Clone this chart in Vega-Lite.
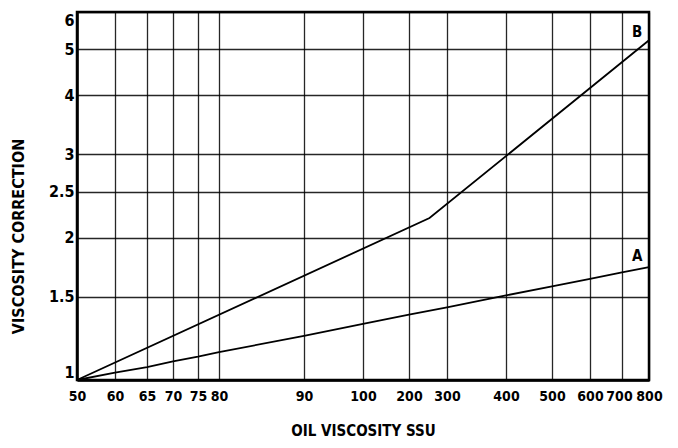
{
  "$schema": "https://vega.github.io/schema/vega-lite/v6.json",
  "width": 572,
  "height": 368,
  "autosize": "none",
  "padding": {"left": 77, "top": 12, "right": 29, "bottom": 68},
  "background": "white",
  "config": {
    "font": "DejaVu Sans Condensed, Liberation Sans, sans-serif",
    "view": {"stroke": "black", "strokeWidth": 2.5},
    "axis": {
      "labelFont": "DejaVu Sans Condensed, Liberation Sans, sans-serif",
      "labelFontWeight": "bold",
      "labelColor": "black",
      "titleFont": "DejaVu Sans Condensed, Liberation Sans, sans-serif",
      "titleFontWeight": "bold",
      "titleColor": "black",
      "domainColor": "black",
      "domainWidth": 2.5,
      "gridColor": "black",
      "gridWidth": 1.3,
      "gridOpacity": 0.85,
      "ticks": false
    }
  },
  "data": {
    "values": [
      {"series": "A", "ssu": 50, "corr": 1.0},
      {"series": "A", "ssu": 60, "corr": 1.037},
      {"series": "A", "ssu": 65, "corr": 1.065},
      {"series": "A", "ssu": 70, "corr": 1.095},
      {"series": "A", "ssu": 75, "corr": 1.12},
      {"series": "A", "ssu": 80, "corr": 1.145},
      {"series": "A", "ssu": 90, "corr": 1.24},
      {"series": "A", "ssu": 100, "corr": 1.315},
      {"series": "A", "ssu": 200, "corr": 1.375},
      {"series": "A", "ssu": 300, "corr": 1.425},
      {"series": "A", "ssu": 400, "corr": 1.51},
      {"series": "A", "ssu": 500, "corr": 1.578},
      {"series": "A", "ssu": 600, "corr": 1.637},
      {"series": "A", "ssu": 700, "corr": 1.688},
      {"series": "A", "ssu": 800, "corr": 1.733},
      {"series": "B", "ssu": 50, "corr": 1.0},
      {"series": "B", "ssu": 254, "corr": 2.2},
      {"series": "B", "ssu": 800, "corr": 5.23}
    ]
  },
  "layer": [
    {
      "mark": {"type": "line", "color": "black", "strokeWidth": 1.8},
      "encoding": {
        "x": {
          "field": "ssu",
          "type": "quantitative",
          "scale": {
            "type": "linear",
            "domain": [50, 60, 65, 70, 75, 80, 90, 100, 200, 300, 400, 500, 600, 700, 800],
            "range": [0, 38, 70, 96, 121, 142, 227, 286, 332, 370, 429, 475, 513, 545, 572],
            "zero": false,
            "nice": false
          },
          "axis": {
            "values": [50, 60, 65, 70, 75, 80, 90, 100, 200, 300, 400, 500, 600, 700, 800],
            "title": "OIL VISCOSITY SSU",
            "labelFontSize": 14,
            "titleFontSize": 15,
            "labelPadding": 9,
            "titlePadding": 20,
            "labelFlush": false,
            "labelOffset": {"condition": {"test": "datum.value == 700", "value": -3}, "value": 0},
            "labelOverlap": false
          }
        },
        "y": {
          "field": "corr",
          "type": "quantitative",
          "scale": {"type": "log", "domain": [1, 6], "nice": false},
          "axis": {
            "values": [1, 1.5, 2, 2.5, 3, 4, 5, 6],
            "title": "VISCOSITY CORRECTION",
            "labelFontSize": 16,
            "titleFontSize": 16,
            "labelPadding": 3,
            "labelFlush": true,
            "titlePadding": 22,
            "titleY": 224,
            "labelOverlap": false
          }
        },
        "detail": {"field": "series"}
      }
    },
    {
      "data": {
        "values": [
          {"label": "A", "ssu": 756, "corr": 1.83},
          {"label": "B", "ssu": 756, "corr": 5.44}
        ]
      },
      "mark": {"type": "text", "font": "DejaVu Sans Condensed, Liberation Sans, sans-serif", "fontWeight": "bold", "fontSize": 15, "color": "black"},
      "encoding": {
        "x": {"field": "ssu", "type": "quantitative"},
        "y": {"field": "corr", "type": "quantitative"},
        "text": {"field": "label"}
      }
    }
  ]
}
